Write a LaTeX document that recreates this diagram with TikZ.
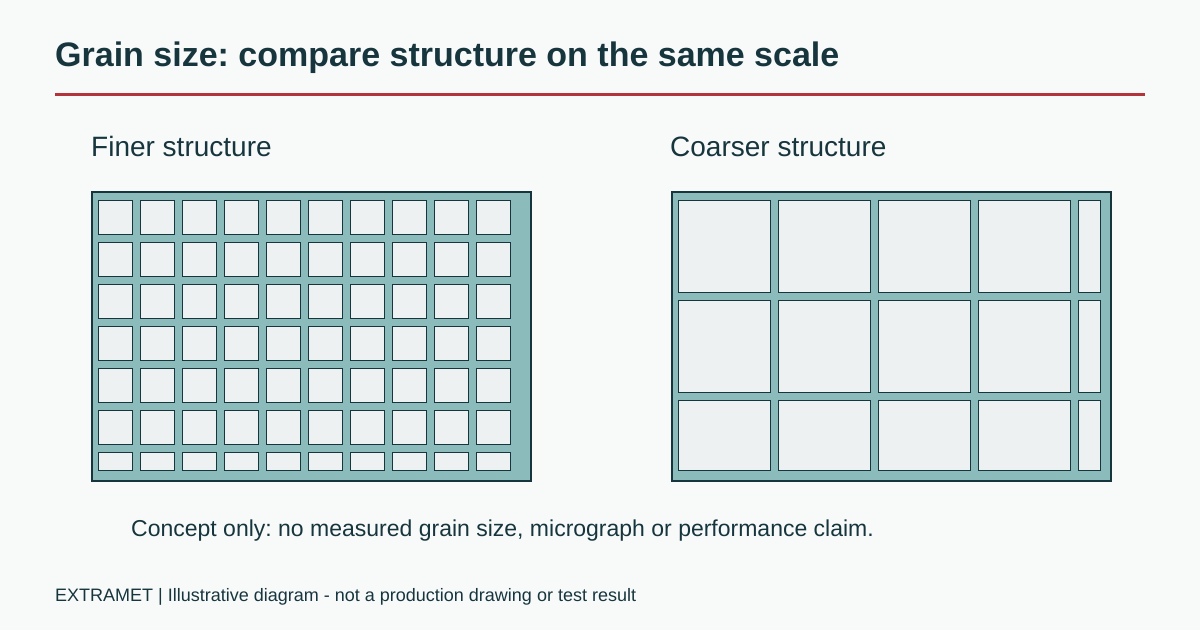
\documentclass[tikz,border=0pt]{standalone}
\usepackage{fontspec}
\setmainfont{Liberation Sans}
\usepackage{tikz}
\usetikzlibrary{positioning}
\frenchspacing

\definecolor{inkteal}{HTML}{17353D}
\definecolor{rulered}{HTML}{B3343B}
\definecolor{pagebg}{HTML}{F8FAFA}
\definecolor{matrixfill}{HTML}{8BBCBB}
\definecolor{grainfill}{HTML}{EEF1F2}

\tikzset{
  frame/.style={draw=inkteal, line width=2pt, fill=matrixfill, rectangle, anchor=north west, inner sep=0pt},
  grain/.style={draw=inkteal, line width=1.15pt, fill=grainfill},
  label/.style={anchor=base west, inner sep=0pt, text=inkteal}
}

\begin{document}
\begin{tikzpicture}[x=1pt, y=-1pt]
        \useasboundingbox[fill=pagebg] (0,0) rectangle (1200,630);
        % title and rule
        \node[label, font=\fontsize{34}{40}\selectfont\bfseries] (title) at (55,66) {Grain size: compare structure on the same scale};
        \coordinate (rulestart) at (55,94.5);
        \coordinate (ruleend) at (1145,94.5);
        \draw[rulered, line width=2.6pt] (rulestart) -- (ruleend);
        % panel headings
        \node[label, font=\fontsize{28}{32}\selectfont] (finelabel) at (91,156) {Finer structure};
        \node[label, font=\fontsize{28}{32}\selectfont] (coarselabel) at (670,156) {Coarser structure};
        % frames
        \node[frame, minimum width=439pt, minimum height=289pt] (fine) at (90.5,190.5) {};
        \node[frame, minimum width=439pt, minimum height=289pt] (coarse) at (670.5,190.5) {};
        % fine grains
        \foreach \col in {0,...,9}
          \foreach \row/\h in {0/34,1/34,2/34,3/34,4/34,5/34,6/18}
            \draw[grain] (98.5+42*\col, 200.5+42*\row) rectangle ++(34,\h);
        % coarse grains
        \foreach \col/\w in {0/92,1/92,2/92,3/92,4/22}
          \foreach \row/\h in {0/92,1/92,2/70}
            \draw[grain] (678.5+100*\col, 200.5+100*\row) rectangle ++(\w,\h);
        % notes
        \node[label, font=\fontsize{23}{28}\selectfont] (note) at (131,536) {Concept only: no measured grain size, micrograph or performance claim.};
        \node[label, font=\fontsize{18}{22}\selectfont] (footer) at (55,601) {EXTRAMET | Illustrative diagram - not a production drawing or test result};
    \end{tikzpicture}
\end{document}
